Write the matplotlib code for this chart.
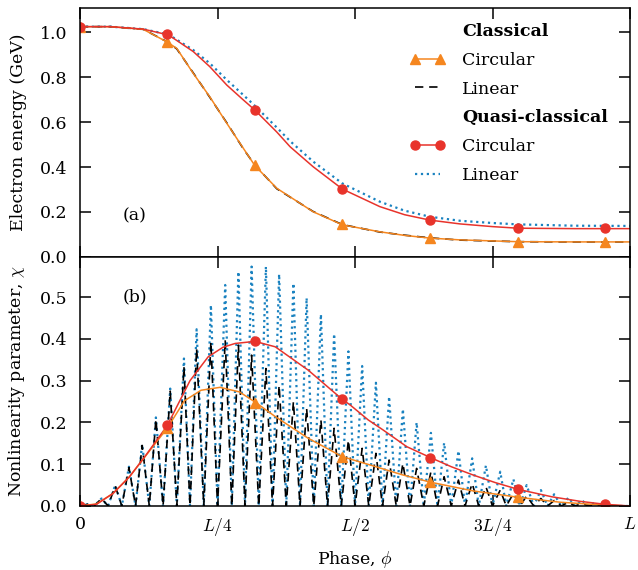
import matplotlib
matplotlib.use('Agg')
import matplotlib.pyplot as plt
from matplotlib.lines import Line2D

plt.rcParams['font.family'] = ['DejaVu Serif']
plt.rcParams['mathtext.fontset'] = 'cm'
plt.rcParams['font.size'] = 12.5

# colours
c_orange = '#f5861f'
c_red = '#e8332b'
c_blue = '#1a82c0'

# --- (a) electron energy, GeV; x in units of L
ca_x = [0, 0.055, 0.115, 0.159, 0.176, 0.206, 0.236, 0.267, 0.297, 0.318, 0.358,
        0.424, 0.477, 0.545, 0.59, 0.636, 0.691, 0.796, 0.9, 1.0]
ca_circ = [1.024, 1.024, 1.012, 0.955, 0.927, 0.816, 0.712, 0.594, 0.483, 0.406, 0.305,
           0.201, 0.143, 0.112, 0.096, 0.084, 0.076, 0.068, 0.067, 0.067]
ca_lin = [1.024, 1.024, 1.012, 0.956, 0.925, 0.818, 0.710, 0.596, 0.481, 0.408, 0.303,
          0.202, 0.144, 0.111, 0.097, 0.085, 0.075, 0.068, 0.067, 0.067]

qa_x = [0, 0.055, 0.115, 0.161, 0.206, 0.236, 0.267, 0.297, 0.318, 0.358, 0.382,
        0.424, 0.477, 0.545, 0.59, 0.636, 0.691, 0.75, 0.796, 0.9, 1.0]
qa_circ = [1.024, 1.024, 1.013, 0.987, 0.913, 0.846, 0.764, 0.698, 0.653, 0.555, 0.49,
           0.401, 0.302, 0.224, 0.188, 0.164, 0.147, 0.135, 0.128, 0.126, 0.126]
qa_lin = [1.024, 1.024, 1.013, 0.989, 0.92, 0.861, 0.787, 0.72, 0.672, 0.575, 0.515,
          0.424, 0.327, 0.246, 0.206, 0.179, 0.161, 0.151, 0.145, 0.139, 0.138]

mark_x = [0.0, 0.159, 0.318, 0.477, 0.637, 0.796, 0.955]
ca_mark = [1.024, 0.957, 0.407, 0.145, 0.086, 0.068, 0.068]
qa_mark = [1.024, 0.99, 0.653, 0.302, 0.164, 0.127, 0.127]

# --- (b) nonlinearity parameter chi
cb_x = [0, 0.03, 0.06, 0.09, 0.12, 0.159, 0.19, 0.22, 0.2545, 0.29, 0.318, 0.355,
        0.415, 0.477, 0.533, 0.585, 0.637, 0.715, 0.796, 0.873, 0.955, 1.0]
cb_circ = [0, 0.005, 0.030, 0.070, 0.121, 0.187, 0.252, 0.277, 0.284, 0.273, 0.249, 0.214,
           0.162, 0.118, 0.096, 0.075, 0.057, 0.036, 0.021, 0.009, 0.002, 0]

qb_x = [0, 0.03, 0.06, 0.09, 0.12, 0.159, 0.173, 0.20, 0.233, 0.26, 0.282, 0.318, 0.355,
        0.415, 0.477, 0.491, 0.524, 0.551, 0.594, 0.637, 0.675, 0.715, 0.755, 0.796,
        0.858, 0.91, 0.955, 1.0]
qb_circ = [0, 0.004, 0.030, 0.070, 0.122, 0.193, 0.230, 0.300, 0.357, 0.380, 0.389, 0.394,
           0.381, 0.325, 0.255, 0.242, 0.206, 0.182, 0.142, 0.116, 0.094, 0.074, 0.056,
           0.040, 0.022, 0.011, 0.004, 0]

cb_mark = [0, 0.186, 0.247, 0.118, 0.057, 0.022, 0.002]
qb_mark = [0, 0.194, 0.394, 0.255, 0.116, 0.041, 0.004]

# linear polarisation: oscillation peaks and zeros
peak_x = [0.014, 0.039, 0.064, 0.089, 0.113, 0.138, 0.164, 0.189, 0.212, 0.238,
          0.264, 0.288, 0.312, 0.338, 0.362, 0.388, 0.412, 0.438, 0.462, 0.488,
          0.513, 0.538, 0.562, 0.587, 0.612, 0.638, 0.662, 0.688, 0.713, 0.738,
          0.764, 0.788, 0.812, 0.838, 0.862, 0.888, 0.912, 0.936, 0.960]
zero_x = [0, 0.026, 0.051, 0.076, 0.101, 0.126, 0.151, 0.176, 0.200, 0.225,
          0.250, 0.276, 0.300, 0.325, 0.350, 0.375, 0.400, 0.425, 0.450, 0.475,
          0.500, 0.525, 0.550, 0.575, 0.600, 0.625, 0.650, 0.675, 0.700, 0.725,
          0.750, 0.775, 0.800, 0.825, 0.850, 0.875, 0.900, 0.925, 0.948, 0.972]
qb_lin_peak = [0.004, 0.018, 0.050, 0.094, 0.148, 0.212, 0.281, 0.353, 0.423, 0.481,
               0.529, 0.561, 0.573, 0.573, 0.555, 0.533, 0.498, 0.459, 0.412, 0.370,
               0.335, 0.295, 0.262, 0.232, 0.200, 0.175, 0.151, 0.132, 0.114, 0.097,
               0.082, 0.064, 0.050, 0.038, 0.028, 0.020, 0.014, 0.008, 0.003]
cb_lin_peak = [0.004, 0.018, 0.048, 0.092, 0.145, 0.208, 0.275, 0.333, 0.377, 0.393,
               0.397, 0.385, 0.361, 0.329, 0.289, 0.250, 0.234, 0.206, 0.186, 0.158,
               0.138, 0.126, 0.110, 0.102, 0.090, 0.082, 0.070, 0.062, 0.054, 0.046,
               0.038, 0.030, 0.024, 0.018, 0.013, 0.009, 0.006, 0.003, 0.001]


def osc(peaks):
    xs, ys = [], []
    for i, p in enumerate(peaks):
        xs += [zero_x[i], peak_x[i]]
        ys += [0, p]
    xs += [zero_x[-1], 1.0]
    ys += [0, 0]
    return xs, ys


fig, (ax1, ax2) = plt.subplots(2, 1, figsize=(6.38, 5.7), dpi=100, sharex=True)
fig.subplots_adjust(left=0.1254, right=0.9875, top=0.986, bottom=0.1123, hspace=0)

lw = 1.1
dash = (0, (5, 3.5))
# top panel
ax1.plot(qa_x, qa_lin, color=c_blue, ls=':', lw=1.6)
ax1.plot(ca_x, ca_lin, color='black', ls=dash, lw=1.2)
ax1.plot(ca_x, ca_circ, color=c_orange, lw=lw)
ax1.plot(qa_x, qa_circ, color=c_red, lw=lw)
ax1.plot(mark_x, ca_mark, ls='none', marker='^', ms=7.5, color=c_orange)
ax1.plot(mark_x, qa_mark, ls='none', marker='o', ms=6.5, color=c_red)

# bottom panel
x, y = osc(qb_lin_peak)
ax2.plot(x, y, color=c_blue, ls=':', lw=1.6)
x, y = osc(cb_lin_peak)
ax2.plot(x, y, color='black', ls=dash, lw=1.2)
ax2.plot(cb_x, cb_circ, color=c_orange, lw=lw)
ax2.plot(qb_x, qb_circ, color=c_red, lw=lw)
ax2.plot(mark_x, cb_mark, ls='none', marker='^', ms=7.5, color=c_orange)
ax2.plot(mark_x, qb_mark, ls='none', marker='o', ms=6.5, color=c_red)

ax1.set_ylim(0, 1.107)
ax1.set_yticks([0, 0.2, 0.4, 0.6, 0.8, 1.0])
ax1.set_yticklabels(['0.0', '0.2', '0.4', '0.6', '0.8', '1.0'])
ax2.set_ylim(0, 0.596)
ax2.set_yticks([0, 0.1, 0.2, 0.3, 0.4, 0.5])
ax2.set_yticklabels(['0.0', '0.1', '0.2', '0.3', '0.4', '0.5'])
ax2.set_xlim(0, 1)
ax2.set_xticks([0, 0.25, 0.5, 0.75, 1.0])
ax2.set_xticklabels(['0', '$L/4$', '$L/2$', '$3L/4$', '$L$'])

for ax in (ax1, ax2):
    ax.tick_params(direction='in', length=8, width=1.1, top=True, right=True,
                   labelsize=12.5)
    ax.tick_params(axis='y', pad=9)
    ax.tick_params(axis='x', pad=7)
    for s in ax.spines.values():
        s.set_linewidth(1.1)

ax1.set_ylabel('Electron energy (GeV)', labelpad=9)
ax2.set_ylabel(r'Nonlinearity parameter, $\chi$', labelpad=9)
ax2.set_xlabel(r'Phase, $\phi$', labelpad=8)

ax1.text(0.078, 0.148, '(a)', transform=ax1.transAxes)
ax2.text(0.078, 0.82, '(b)', transform=ax2.transAxes)

blank = Line2D([], [], ls='none')
handles = [blank,
           Line2D([], [], color=c_orange, lw=lw, marker='^', ms=7.5),
           Line2D([], [], color='black', ls=dash, lw=1.2),
           blank,
           Line2D([], [], color=c_red, lw=lw, marker='o', ms=6.5),
           Line2D([], [], color=c_blue, ls=':', lw=1.6)]
labels = ['Classical', 'Circular', 'Linear', 'Quasi-classical', 'Circular', 'Linear']
leg = ax1.legend(handles, labels, loc='upper left', bbox_to_anchor=(0.6, 0.94),
                 frameon=False, borderaxespad=0, borderpad=0, numpoints=2,
                 handlelength=2.0, handletextpad=1.0, labelspacing=0.68, fontsize=12.5)
for i in (0, 3):
    leg.get_texts()[i].set_fontweight('bold')

fig.savefig('out.png', dpi=100)
